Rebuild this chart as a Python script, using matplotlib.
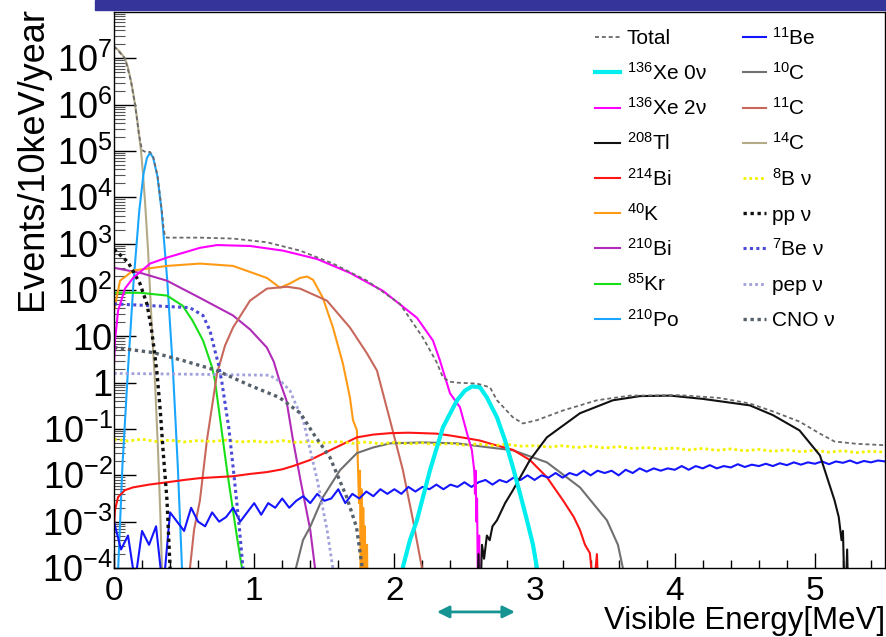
import numpy as np
import matplotlib
matplotlib.use("Agg")
import matplotlib.pyplot as plt
from matplotlib.lines import Line2D
from matplotlib.patches import Rectangle
from matplotlib.ticker import MultipleLocator, LogLocator, NullFormatter

plt.rcParams['font.family'] = ['Liberation Sans', 'DejaVu Sans']
plt.rcParams['mathtext.fontset'] = 'custom'
plt.rcParams['mathtext.rm'] = 'Liberation Sans'
plt.rcParams['mathtext.it'] = 'Liberation Sans:italic'
plt.rcParams['mathtext.bf'] = 'Liberation Sans:bold'
plt.rcParams['mathtext.default'] = 'rm'

# ---- spectra: visible energy [MeV] and log10(events / 10 keV / year) ----
total_E = [0.0, 0.078, 0.121, 0.15, 0.178, 0.2, 0.23, 0.257, 0.28, 0.31, 0.34, 0.355, 0.365,
           0.378, 0.613, 0.849, 0.97, 1.091, 1.327, 1.562, 1.805, 2.04, 2.204, 2.3, 2.347,
           2.4, 2.447, 2.518, 2.589, 2.682, 2.732, 2.846, 2.917, 3.017, 3.203, 3.445, 3.68,
           4.037, 4.32, 4.536, 4.7, 4.89, 5.036, 5.14, 5.3, 5.5]
total_log = [7.26, 7.0, 6.51, 6.0, 5.36, 5.02, 4.97, 4.98, 4.87, 4.47, 3.74, 3.3, 3.15,
             3.13, 3.13, 3.11, 3.07, 3.03, 2.85, 2.57, 2.2, 1.7, 0.97, 0.45, 0.11,
             0.02, 0.0, -0.01, -0.02, -0.1, -0.38, -0.75, -0.88, -0.81, -0.6, -0.38, -0.28,
             -0.27, -0.33, -0.45, -0.62, -0.84, -1.1, -1.27, -1.32, -1.35]

xe0n_E = [2.05, 2.061, 2.111, 2.161, 2.254, 2.347, 2.447, 2.504, 2.554, 2.611, 2.66, 2.732,
          2.789, 2.846, 2.896, 2.946, 2.989, 3.017, 3.03]
xe0n_log = [-5, -3.98, -3.4, -2.97, -1.89, -0.96, -0.38, -0.17, -0.08, -0.1, -0.32, -0.75,
            -1.24, -1.83, -2.39, -2.97, -3.5, -4.0, -5]

xe2n_E = [0.0, 0.007, 0.029, 0.078, 0.136, 0.257, 0.378, 0.613, 0.735, 0.97, 1.205, 1.448,
          1.683, 1.919, 2.161, 2.275, 2.325, 2.397, 2.468, 2.518, 2.553, 2.57, 2.575, 2.58,
          2.585, 2.59, 2.596, 2.605, 2.61, 2.615]
xe2n_log = [0.41, 0.9, 1.55, 2.03, 2.26, 2.57, 2.7, 2.91, 2.97, 2.95, 2.85, 2.67,
            2.37, 1.98, 1.4, 0.91, 0.48, -0.23, -0.53, -1.09, -1.46, -1.9, -2.4, -1.9,
            -3.0, -2.5, -4.5, -3.3, -5, -5]

tl208_E = [2.59, 2.6, 2.61, 2.625, 2.64, 2.66, 2.68, 2.7, 2.732, 2.79, 2.846, 2.967, 3.088,
           3.324, 3.559, 3.752, 3.97, 4.2, 4.536, 4.7, 4.89, 5.036, 5.14, 5.17, 5.19, 5.2,
           5.215, 5.23, 5.24, 5.25]
tl208_log = [-5, -3.7, -5, -3.5, -3.8, -3.3, -3.4, -3.1, -2.97, -2.6, -2.32, -1.67, -1.18,
             -0.66, -0.38, -0.29, -0.28, -0.35, -0.49, -0.7, -1.03, -1.57, -2.54, -2.9, -3.4,
             -3.2, -5, -3.6, -5, -5]

bi214_E = [0.0, 0.007, 0.029, 0.078, 0.136, 0.25, 0.378, 0.5, 0.613, 0.73, 0.849, 0.97,
           1.091, 1.2, 1.277, 1.398, 1.541, 1.733, 1.85, 1.969, 2.1, 2.204, 2.3, 2.397,
           2.518, 2.611, 2.7, 2.846, 2.967, 3.088, 3.203, 3.28, 3.324, 3.36, 3.395, 3.42,
           3.445, 3.46]
bi214_log = [-3.12, -2.75, -2.47, -2.32, -2.26, -2.2, -2.15, -2.1, -2.06, -2.04, -2.02, -1.97,
             -1.93, -1.87, -1.8, -1.67, -1.46, -1.18, -1.12, -1.09, -1.08, -1.09, -1.1, -1.14,
             -1.2, -1.25, -1.33, -1.45, -1.67, -2.04, -2.54, -2.9, -3.18, -3.5, -3.68, -4.5,
             -3.7, -5]

k40_E = [0.0, 0.043, 0.136, 0.378, 0.613, 0.849, 1.091, 1.184, 1.255, 1.327, 1.377, 1.42,
         1.49, 1.562, 1.633, 1.683, 1.705, 1.733, 1.74, 1.748, 1.755, 1.76, 1.765, 1.772,
         1.778, 1.785, 1.79, 1.797, 1.805, 1.81]
k40_log = [1.55, 2.2, 2.42, 2.52, 2.57, 2.52, 2.26, 2.05, 2.14, 2.26, 2.29, 2.22,
           1.83, 1.19, 0.41, -0.32, -0.81, -1.03, -1.78, -2.6, -1.9, -5, -2.3, -5,
           -2.7, -5, -3.1, -5, -3.5, -5]

bi210_E = [0.0, 0.2, 0.378, 0.613, 0.849, 0.97, 1.09, 1.14, 1.18, 1.23, 1.277, 1.33, 1.4,
           1.434, 1.45]
bi210_log = [2.48, 2.36, 2.2, 1.83, 1.45, 1.15, 0.76, 0.45, 0.05, -0.38, -1.24, -2.1, -3.18,
             -4.0, -5]

kr85_E = [0.0, 0.185, 0.378, 0.49, 0.56, 0.635, 0.7, 0.72, 0.76, 0.806, 0.877, 0.913, 0.93]
kr85_log = [1.94, 1.94, 1.88, 1.66, 1.34, 0.91, 0.33, 0.05, -0.85, -1.89, -3.33, -4.0, -5]

po210_E = [0.02, 0.03, 0.06, 0.10, 0.14, 0.18, 0.21, 0.235, 0.257, 0.28, 0.31, 0.34, 0.38,
           0.42, 0.455, 0.485, 0.495]
po210_log = [-5, -4, -1.8, 0.3, 2.2, 3.7, 4.5, 4.85, 4.96, 4.85, 4.45, 3.7, 2.2,
             0.3, -1.8, -4, -5]

c10_E = [1.29, 1.298, 1.348, 1.398, 1.491, 1.612, 1.733, 1.847, 1.969, 2.204, 2.447, 2.682,
         2.846, 3.088, 3.324, 3.516, 3.595, 3.63, 3.64]
c10_log = [-5, -4, -3.4, -3.12, -2.47, -1.89, -1.52, -1.4, -1.31, -1.29, -1.31, -1.4,
           -1.46, -1.72, -2.26, -2.97, -3.5, -4, -5]

c11_E = [0.53, 0.542, 0.571, 0.613, 0.663, 0.706, 0.735, 0.792, 0.849, 0.97, 1.091, 1.234,
         1.327, 1.519, 1.683, 1.805, 1.876, 1.969, 2.061, 2.133, 2.197, 2.21]
c11_log = [-5, -4, -3.18, -2.54, -1.24, -0.38, 0.2, 0.8, 1.19, 1.77, 2.03, 2.07,
           2.03, 1.77, 1.19, 0.63, 0.26, -0.81, -1.89, -2.97, -4, -5]

c14_E = [0.0, 0.04, 0.078, 0.1, 0.121, 0.137, 0.15, 0.165, 0.178, 0.193, 0.207, 0.221,
         0.243, 0.271, 0.292, 0.314, 0.33, 0.342, 0.35]
c14_log = [7.26, 7.15, 7.0, 6.8, 6.51, 6.25, 6.0, 5.7, 5.36, 5.0, 4.5, 3.92,
           2.85, 1.12, 0.05, -1.46, -2.8, -4.0, -5]

pp_E = [0.0, 0.1, 0.185, 0.235, 0.265, 0.285, 0.307, 0.33, 0.35, 0.378, 0.4, 0.41]
pp_log = [2.88, 2.6, 2.14, 1.7, 1.2, 0.75, 0.2, -0.6, -1.46, -2.54, -4.0, -5]

be7_E = [0.0, 0.54, 0.635, 0.685, 0.72, 0.745, 0.77, 0.82, 0.856, 0.89, 0.92, 0.93]
be7_log = [1.7, 1.62, 1.45, 1.12, 0.69, 0.4, 0.0, -1.0, -2.0, -3.0, -4.0, -5]

pep_E = [0.0, 0.613, 1.11, 1.2, 1.255, 1.3, 1.35, 1.4, 1.45, 1.52, 1.56, 1.57]
pep_log = [0.2, 0.18, 0.16, 0.0, -0.17, -0.49, -0.81, -1.46, -2.1, -3.18, -3.98, -5]

cno_E = [0.0, 0.278, 0.49, 0.735, 0.97, 1.18, 1.33, 1.42, 1.54, 1.66, 1.73, 1.77, 1.78]
cno_log = [0.76, 0.65, 0.48, 0.26, -0.06, -0.32, -0.66, -1.09, -1.61, -2.47, -3.12, -3.98, -5]

# 8B solar neutrinos, 0.1 MeV bins from 0 to 5.5 MeV
b8_log = [-1.22, -1.26, -1.22, -1.27, -1.24, -1.28, -1.25, -1.27, -1.24, -1.28,
          -1.26, -1.29, -1.25, -1.29, -1.27, -1.30, -1.27, -1.31, -1.28, -1.32,
          -1.29, -1.32, -1.30, -1.34, -1.31, -1.35, -1.32, -1.36, -1.33, -1.37,
          -1.36, -1.39, -1.36, -1.40, -1.37, -1.41, -1.38, -1.42, -1.40, -1.43,
          -1.41, -1.45, -1.42, -1.46, -1.43, -1.47, -1.44, -1.48, -1.45, -1.49,
          -1.46, -1.50, -1.47, -1.51, -1.48, -1.50]

# 11Be, 0.05 MeV bins from 0 to 5.5 MeV
be11_log = [-3.0, -3.6, -3.3, -4.3, -3.2, -3.5, -3.1, -4.5, -2.8, -3.0,
            -3.2, -2.7, -3.0, -3.1, -2.8, -3.0, -2.9, -2.7, -3.0, -2.8,
            -2.6, -2.85, -2.6, -2.7, -2.5, -2.7, -2.55, -2.45, -2.6, -2.4,
            -2.55, -2.5, -2.3, -2.6, -2.4, -2.5, -2.35, -2.45, -2.3, -2.4,
            -2.3, -2.4, -2.25, -2.35, -2.25, -2.3, -2.2, -2.3, -2.2, -2.25,
            -2.15, -2.25, -2.15, -2.1, -2.2, -2.1, -2.15, -2.05, -2.1, -2.0,
            -2.1, -2.0, -2.05, -1.95, -2.05, -1.95, -2.0, -1.9, -2.0, -1.9,
            -1.95, -1.9, -2.0, -1.88, -1.95, -1.85, -1.92, -1.85, -1.9, -1.85,
            -1.88, -1.8, -1.88, -1.8, -1.85, -1.78, -1.85, -1.8, -1.83, -1.76,
            -1.82, -1.77, -1.8, -1.75, -1.8, -1.74, -1.78, -1.72, -1.77, -1.72,
            -1.75, -1.7, -1.76, -1.7, -1.73, -1.68, -1.74, -1.69, -1.72, -1.68,
            -1.7]

b8_E = np.linspace(0.0, 5.5, len(b8_log))
be11_E = np.linspace(0.0, 5.5, len(be11_log))

x_ticks = [0, 1, 2, 3, 4, 5]
y_ticks = [1e-4, 1e-3, 1e-2, 1e-1, 1, 10, 1e2, 1e3, 1e4, 1e5, 1e6, 1e7]
y_tick_labels = ['$10^{-4}$', '$10^{-3}$', '$10^{-2}$', '$10^{-1}$', '1', '10',
                 '$10^{2}$', '$10^{3}$', '$10^{4}$', '$10^{5}$', '$10^{6}$', '$10^{7}$']

W, H = 887, 637
fig = plt.figure(figsize=(W / 100, H / 100), dpi=100)
ax = fig.add_axes([114 / W, 1 - 568 / H, 771 / W, 556 / H])

DOT = (0, (1.0, 1.1))
series = {
    '136Xe 0ν': (xe0n_E, xe0n_log, '#00eeee', 3.0, '-'),
    '136Xe 2ν': (xe2n_E, xe2n_log, '#ff00ff', 1.5, '-'),
    '208Tl': (tl208_E, tl208_log, '#111111', 1.5, '-'),
    '214Bi': (bi214_E, bi214_log, '#ff1515', 1.5, '-'),
    '40K': (k40_E, k40_log, '#ff9a15', 1.5, '-'),
    '210Bi': (bi210_E, bi210_log, '#b02cb8', 1.5, '-'),
    '85Kr': (kr85_E, kr85_log, '#18e018', 1.5, '-'),
    '210Po': (po210_E, po210_log, '#1aa6ff', 1.5, '-'),
    '11Be': (be11_E, be11_log, '#1515ff', 1.5, '-'),
    '10C': (c10_E, c10_log, '#707070', 1.5, '-'),
    '11C': (c11_E, c11_log, '#c8685c', 1.5, '-'),
    '14C': (c14_E, c14_log, '#b4aa88', 1.5, '-'),
    '8B ν': (b8_E, b8_log, '#f2f200', 2.0, DOT),
    'pp ν': (pp_E, pp_log, '#111111', 2.4, DOT),
    '7Be ν': (be7_E, be7_log, '#4a4ad6', 2.2, DOT),
    'pep ν': (pep_E, pep_log, '#a0a0dc', 2.0, DOT),
    'CNO ν': (cno_E, cno_log, '#55606a', 2.4, DOT),
    'Total': (total_E, total_log, '#6a6a6a', 1.3, (0, (2.2, 1.6))),
}

draw_order = ['14C', '210Po', '85Kr', '210Bi', '40K', '11C', '10C', '214Bi', '11Be', '8B ν',
              'pep ν', '7Be ν', 'CNO ν', 'pp ν', '136Xe 2ν', '208Tl', '136Xe 0ν', 'Total']
for name in draw_order:
    E, lg, color, lw, ls = series[name]
    ax.plot(E, 10.0 ** np.asarray(lg, dtype=float), color=color, lw=lw, ls=ls,
            solid_joinstyle='round')

ax.set_xlim(0, 5.5)
ax.set_yscale('log')
ax.set_ylim(1e-4, 1e8)

ax.set_xticks(x_ticks)
ax.set_xticklabels([str(t) for t in x_ticks])
ax.xaxis.set_minor_locator(MultipleLocator(0.2))
ax.set_yticks(y_ticks)
ax.set_yticklabels(y_tick_labels)
ax.yaxis.set_minor_locator(LogLocator(base=10, subs=np.arange(2, 10), numticks=30))
ax.yaxis.set_minor_formatter(NullFormatter())

ax.tick_params(axis='both', which='both', direction='in', top=False, right=False)
ax.tick_params(axis='x', which='major', length=11, width=1, labelsize=24, pad=6)
ax.tick_params(axis='x', which='minor', length=6, width=1)
ax.tick_params(axis='y', which='major', length=16, width=1, labelsize=26, pad=1)
ax.tick_params(axis='y', which='minor', length=8, width=0.8, color='#555555')
for sp in ax.spines.values():
    sp.set_linewidth(1.0)

ax.set_ylabel('Events/10keV/year', fontsize=26)
ax.yaxis.set_label_coords(-0.083, 0.737)
ax.set_xlabel('Visible Energy[MeV]', fontsize=22.5, loc='right')
ax.xaxis.set_label_coords(1.0, -0.069)

# energy window marker under the axis
ax.annotate('', xy=(2.86, -0.079), xytext=(2.304, -0.079),
            xycoords=('data', 'axes fraction'), annotation_clip=False,
            arrowprops=dict(arrowstyle='<|-|>', color='#169494', lw=2,
                            mutation_scale=18, shrinkA=0, shrinkB=0))

# header band
fig.add_artist(Rectangle((95 / W, 1 - 10 / H), (W - 95) / W, 10 / H,
                         transform=fig.transFigure, color='#35349a', zorder=5))

# two-column legend
legend_cols = [
    [('Total', 'Total'), ('136Xe 0ν', '$^{136}$Xe 0ν'), ('136Xe 2ν', '$^{136}$Xe 2ν'),
     ('208Tl', '$^{208}$Tl'), ('214Bi', '$^{214}$Bi'), ('40K', '$^{40}$K'),
     ('210Bi', '$^{210}$Bi'), ('85Kr', '$^{85}$Kr'), ('210Po', '$^{210}$Po')],
    [('11Be', '$^{11}$Be'), ('10C', '$^{10}$C'), ('11C', '$^{11}$C'), ('14C', '$^{14}$C'),
     ('8B ν', '$^{8}$B ν'), ('pp ν', 'pp ν'), ('7Be ν', '$^{7}$Be ν'), ('pep ν', 'pep ν'),
     ('CNO ν', 'CNO ν')],
]
col_x = [(595, 620, 627), (743, 766, 772)]
for (x0, x1, xt), col in zip(col_x, legend_cols):
    for i, (key, text) in enumerate(col):
        _, _, color, lw, ls = series[key]
        yc = 37 + 35.25 * i
        fig.add_artist(Line2D([x0 / W, x1 / W], [1 - yc / H, 1 - yc / H],
                              transform=fig.transFigure, color=color, lw=lw, ls=ls))
        fig.text(xt / W, 1 - (yc + 7.5) / H, text, fontsize=15, ha='left', va='baseline')

fig.savefig('out.png', dpi=100)
